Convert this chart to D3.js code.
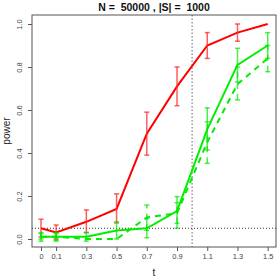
<!DOCTYPE html>
<html>
<head>
<meta charset="utf-8">
<script src="https://cdn.jsdelivr.net/npm/d3@7"></script>
<style>
  body { margin: 0; background: #fff; }
  svg { display: block; font-family: "Liberation Sans", Arial, sans-serif; }
</style>
</head>
<body>
<div id="chart"></div>
<script>
// t values and tick labels
const tValues = [0, 0.1, 0.3, 0.5, 0.7, 0.9, 1.1, 1.3, 1.5];
const xTickLabels = ["0", "0.1", "0.3", "0.5", "0.7", "0.9", "1.1", "1.3", "1.5"];
const yTicks = [0, 0.2, 0.4, 0.6, 0.8, 1.0];

// red series
const redMean = [0.05, 0.03, 0.08, 0.14, 0.49, 0.71, 0.90, 0.96, 1.00];
const redLow  = [0.01, 0.00, 0.03, 0.075, 0.39, 0.62, 0.84, 0.92, 1.00];
const redHigh = [0.092, 0.065, 0.135, 0.21, 0.59, 0.80, 0.96, 1.00, 1.00];

// green solid series
const greenMean = [0.01, 0.01, 0.01, 0.04, 0.05, 0.13, 0.51, 0.81, 0.90];
const greenLow  = [-0.01, -0.01, -0.01, 0.00, 0.006, 0.05, 0.414, 0.73, 0.84];
const greenHigh = [0.03, 0.03, 0.03, 0.08, 0.095, 0.197, 0.61, 0.887, 0.96];

// green dashed series
const dashMean = [0.01, 0.01, 0.00, 0.00, 0.10, 0.12, 0.45, 0.72, 0.84];
const dashLow  = [0.00, -0.005, 0.00, 0.00, 0.04, 0.073, 0.352, 0.647, 0.778];
const dashHigh = [0.025, 0.025, 0.00, 0.00, 0.158, 0.169, 0.545, 0.80, 0.90];

const width = 280, height = 280;
const box = { left: 32, right: 276, top: 15, bottom: 247 };

const x = d3.scaleLinear().domain([0, 1.5]).range([41, 267.7]);
const y = d3.scaleLinear().domain([0, 1]).range([239, 24]);

const svg = d3.select('#chart').append('svg')
    .attr('width', width)
    .attr('height', height);

// reference lines
svg.append('line')
    .attr('x1', x(1)).attr('x2', x(1))
    .attr('y1', box.top).attr('y2', box.bottom)
    .attr('stroke', '#999').attr('stroke-width', 1.5)
    .attr('stroke-dasharray', '1.5,2');
svg.append('line')
    .attr('x1', box.left).attr('x2', box.right)
    .attr('y1', y(0.05)).attr('y2', y(0.05))
    .attr('stroke', '#333').attr('stroke-width', 1)
    .attr('stroke-dasharray', '1,2');

function drawSeries(mean, low, high, color, barColor, dash) {
    const line = d3.line()
        .x((d, i) => x(tValues[i]))
        .y(d => y(d));
    svg.append('path')
        .datum(mean)
        .attr('d', line)
        .attr('fill', 'none')
        .attr('stroke', color)
        .attr('stroke-width', 2)
        .attr('stroke-dasharray', dash || null);

    const bars = svg.append('g')
        .attr('stroke', barColor)
        .attr('stroke-width', 1.5)
        .attr('stroke-dasharray', dash || null);
    tValues.forEach((t, i) => {
        if (high[i] === low[i]) return;
        const cx = x(t);
        bars.append('line')
            .attr('x1', cx).attr('x2', cx)
            .attr('y1', y(low[i])).attr('y2', y(high[i]));
        [low[i], high[i]].forEach(v => {
            bars.append('line')
                .attr('x1', cx - 2.5).attr('x2', cx + 2.5)
                .attr('y1', y(v)).attr('y2', y(v))
                .attr('stroke-dasharray', null);
        });
    });
}

drawSeries(redMean, redLow, redHigh, '#ff0000', 'rgba(255,40,40,0.75)');
drawSeries(greenMean, greenLow, greenHigh, '#00ee00', 'rgba(0,230,0,0.7)');
drawSeries(dashMean, dashLow, dashHigh, '#00ee00', 'rgba(0,230,0,0.7)', '6,5');

// box
svg.append('rect')
    .attr('x', box.left).attr('y', box.top)
    .attr('width', box.right - box.left).attr('height', box.bottom - box.top)
    .attr('fill', 'none').attr('stroke', '#555').attr('stroke-width', 1);

// x axis
const xAxis = svg.append('g')
    .attr('transform', `translate(0,${box.bottom})`)
    .call(d3.axisBottom(x).tickValues(tValues)
        .tickFormat((d, i) => xTickLabels[i]).tickSize(4).tickPadding(3));
xAxis.select('.domain').remove();
xAxis.selectAll('line').attr('stroke', '#555');
xAxis.selectAll('text').attr('font-size', 7.5).attr('fill', '#444')
    .attr('font-family', '"Liberation Sans", Arial, sans-serif');

// y axis
const yAxis = svg.append('g')
    .attr('transform', `translate(${box.left},0)`)
    .call(d3.axisLeft(y).tickValues(yTicks).tickFormat(d3.format('.1f')).tickSize(4).tickPadding(3));
yAxis.select('.domain').remove();
yAxis.selectAll('line').attr('stroke', '#555');
yAxis.selectAll('text')
    .attr('font-size', 7.5).attr('fill', '#444')
    .attr('font-family', '"Liberation Sans", Arial, sans-serif')
    .attr('text-anchor', 'middle')
    .attr('dy', null)
    .attr('x', null)
    .attr('transform', d => `translate(-10,0) rotate(-90)`);

// titles
svg.append('text')
    .attr('x', 154).attr('y', 11)
    .attr('text-anchor', 'middle')
    .attr('font-weight', 'bold').attr('font-size', 10.5)
    .attr('fill', '#111')
    .attr('xml:space', 'preserve')
    .text('N =  50000 , |S| =  1000');
svg.append('text')
    .attr('x', 154).attr('y', 276)
    .attr('text-anchor', 'middle').attr('font-size', 10)
    .attr('fill', '#222')
    .text('t');
svg.append('text')
    .attr('transform', `translate(10,131) rotate(-90)`)
    .attr('text-anchor', 'middle').attr('font-size', 10)
    .attr('fill', '#222')
    .text('power');
</script>
</body>
</html>
